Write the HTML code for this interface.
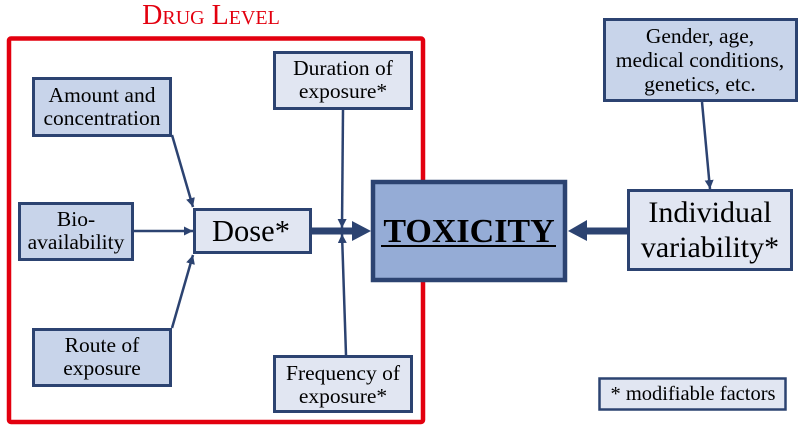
<!DOCTYPE html>
<html><head><meta charset="utf-8"><style>
html,body{margin:0;padding:0;background:#fff;font-family:"Liberation Serif","DejaVu Serif",serif;}
svg{display:block;font-family:"Liberation Serif","DejaVu Serif",serif;}
svg text{font-family:"Liberation Serif","DejaVu Serif",serif !important;fill:#000;}
</style></head><body>
<svg width="809" height="440" viewBox="0 0 809 440" xmlns="http://www.w3.org/2000/svg" font-family="Liberation Serif, serif">
<defs>
<marker id="ah" viewBox="0 0 10 10" refX="10" refY="5" markerWidth="9" markerHeight="9" markerUnits="userSpaceOnUse" orient="auto">
<path d="M0,0 L10,5 L0,10 z" fill="#2c4371"/>
</marker>
</defs>
<!-- title -->
<text x="211" y="24" text-anchor="middle" font-size="28" font-family="Liberation Serif, serif" style="font-variant:small-caps;fill:#e3000f">Drug Level</text>
<!-- red box -->
<rect x="9" y="38.5" width="414" height="383.5" rx="2" fill="none" stroke="#e3000f" stroke-width="4.5"/>

<!-- thin arrows -->
<g stroke="#2c4371" stroke-width="2.5" fill="none">
<line x1="172" y1="135" x2="193" y2="207" marker-end="url(#ah)"/>
<line x1="134" y1="231" x2="193" y2="231" marker-end="url(#ah)"/>
<line x1="172" y1="328" x2="193" y2="255" marker-end="url(#ah)"/>
<line x1="343" y1="110" x2="342" y2="228" marker-end="url(#ah)"/>
<line x1="346" y1="355" x2="342" y2="234" marker-end="url(#ah)"/>
<line x1="702" y1="102" x2="710" y2="189" marker-end="url(#ah)"/>
</g>
<!-- thick arrows -->
<line x1="311" y1="231" x2="354" y2="231" stroke="#2c4371" stroke-width="7"/>
<polygon points="352,221 371,231 352,241" fill="#2c4371"/>
<line x1="627" y1="231" x2="585" y2="231" stroke="#2c4371" stroke-width="7"/>
<polygon points="587,220 568,231 587,241" fill="#2c4371"/>

<g stroke="#2c4371" stroke-width="3">
<rect x="33.5" y="78.5" width="137" height="57" fill="#c8d4ea"/>
<rect x="274.5" y="52.5" width="137" height="56" fill="#e1e6f2"/>
<rect x="19.5" y="203.5" width="113" height="56" fill="#c8d4ea"/>
<rect x="194.5" y="209.5" width="116" height="43" fill="#e1e6f2"/>
<rect x="33.5" y="329.5" width="137" height="56" fill="#c8d4ea"/>
<rect x="274.5" y="356.5" width="137" height="55" fill="#e1e6f2"/>
<rect x="604.5" y="19.5" width="192" height="81" fill="#c8d4ea"/>
<rect x="628.5" y="190.5" width="163" height="79" fill="#e1e6f2"/>
<rect x="599.5" y="378.5" width="186" height="31" fill="#e1e6f2" stroke-width="2.5"/>
</g>
<rect x="373" y="182" width="192" height="98" fill="#95acd6" stroke="#2c4371" stroke-width="4.5"/>

<g font-size="21.5" text-anchor="middle" font-family="Liberation Serif, serif">
<text x="102" y="102">Amount and</text>
<text x="102" y="125">concentration</text>
<text x="343" y="75">Duration of</text>
<text x="343" y="98">exposure*</text>
<text x="76" y="226">Bio-</text>
<text x="76" y="249">availability</text>
<text x="102" y="352">Route of</text>
<text x="102" y="375">exposure</text>
<text x="343" y="380">Frequency of</text>
<text x="343" y="403">exposure*</text>
<text x="700" y="43">Gender, age,</text>
<text x="700" y="67">medical conditions,</text>
<text x="700" y="91">genetics, etc.</text>
</g>
<g text-anchor="middle" font-family="Liberation Serif, serif">
<text x="693" y="400" font-size="20.5">* modifiable factors</text>
<text x="251" y="241" font-size="30.5">Dose*</text>
<text x="469" y="242" font-size="34" font-weight="bold">TOXICITY</text>
<text x="710" y="222" font-size="30">Individual</text>
<text x="710" y="257" font-size="30">variability*</text>
</g>
<line x1="381" y1="246" x2="556" y2="246" stroke="#000" stroke-width="2"/>
</svg>
</body></html>
